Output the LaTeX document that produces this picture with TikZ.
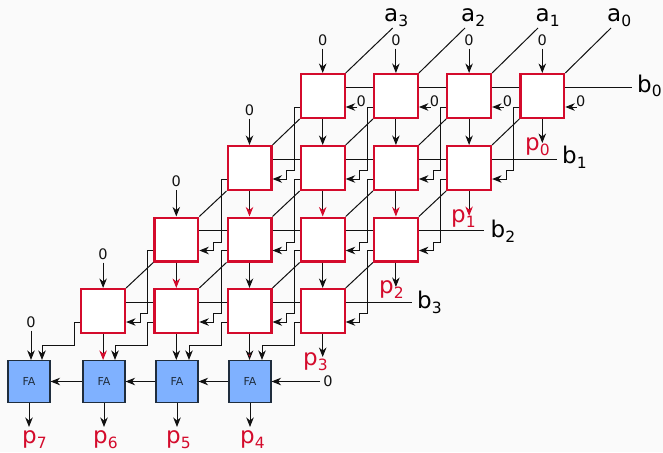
\documentclass[tikz,border=0pt]{standalone}
\usepackage{fontspec}
\setmainfont{DejaVu Sans}
\usetikzlibrary{arrows.meta,calc}
\definecolor{bgc}{HTML}{FAFAFA}
\definecolor{cellred}{HTML}{D40B2C}
\definecolor{fablue}{HTML}{7FB1FF}
\definecolor{fadark}{HTML}{1F2D3D}
\definecolor{wirec}{HTML}{111111}
\tikzset{
  cellbox/.style={draw=cellred,line width=2.2pt,fill=white,minimum size=43.8pt,inner sep=0pt},
  fabox/.style={draw=fadark,line width=1.1pt,fill=fablue,minimum size=42pt,inner sep=0pt,font=\fontsize{11}{11}\selectfont,text=fadark},
  wire/.style={draw=wirec,line width=1pt},
  arr/.style={wire,-{Stealth[length=9.5pt,width=7.5pt,inset=3pt]}},
  arrred/.style={wire,-{Stealth[length=9.5pt,width=7.5pt,inset=3pt,color=cellred]}},
  arrmix/.style={wire,-{Stealth[length=9.5pt,width=7.5pt,inset=3pt,fill=cellred]}},
  zero/.style={font=\fontsize{14.5}{15}\selectfont,text=wirec,inner sep=0pt},
  abl/.style={font=\fontsize{23}{24}\selectfont,text=black,inner sep=0pt,anchor=base west},
  pbl/.style={font=\fontsize{23}{24}\selectfont,text=cellred,inner sep=0pt,anchor=base west}
}
\newcommand{\sbs}[1]{\raisebox{-5pt}{\fontsize{15.5}{16}\selectfont #1}}
\begin{document}
\begin{tikzpicture}[x=1pt,y=-1pt]
\fill[bgc] (0,0) rectangle (663,452);
\useasboundingbox (0,0) rectangle (663,452);
% FA nodes
\node[fabox] (fa0) at (29,381.5) {FA};
\node[fabox] (fa1) at (104,381.5) {FA};
\node[fabox] (fa2) at (177,381.5) {FA};
\node[fabox] (fa3) at (250,381.5) {FA};
% cells: c<row><col>
\foreach \r/\yy in {0/96,1/168,2/239.5,3/311}{
  \foreach \c in {0,1,2,3}{
    \pgfmathsetmacro{\xx}{322.7+73.2*\c-73.2*\r}
    \node[cellbox] (c\r\c) at (\xx,\yy) {};
  }
}
% outside ends
\coordinate (ea3) at (392.7,28);
\coordinate (ea2) at (465,28);
\coordinate (ea1) at (538,28);
\coordinate (ea0) at (611,28);
\coordinate (eb0) at (632,87);
\coordinate (eb1) at (557,159);
\coordinate (eb2) at (484,230.5);
\coordinate (eb3) at (412,302);
% zero inputs
\foreach \c in {0,1,2,3}{
  \node[zero] (zt\c) at ($(c0\c.north)+(0,-33)$) {0};
  \draw[arr] ([yshift=-3pt]zt\c.south) -- (c0\c.north);
  \node[zero] (zr\c) at ($(c0\c.east)+(15.5,5.5)$) {0};
  \draw[arr] ([xshift=1pt,yshift=-5.5pt]zr\c.west) -- ([yshift=-11pt]c0\c.east);
}
\node[zero] (zl1) at ($(c10.north)+(0,-35)$) {0};
\draw[arr] ([yshift=-3pt]zl1.south) -- (c10.north);
\node[zero] (zl2) at ($(c20.north)+(0,-35)$) {0};
\draw[arr] ([yshift=-3pt]zl2.south) -- (c20.north);
\node[zero] (zl3) at ($(c30.north)+(0,-34)$) {0};
\draw[arr] ([yshift=-3pt]zl3.south) -- (c30.north);
\node[zero] (zf) at (31,322) {0};
\draw[arr] ([yshift=-3pt]zf.south) -- (zf.south|-fa0.north);
\node[zero] (zf3) at ($(fa3.center)+(78,0)$) {0};
\draw[arr] ([xshift=-3pt]zf3.west) -- (fa3.east);
% FA chain and outputs
\draw[arr] (fa3.west) -- (fa2.east);
\draw[arr] (fa2.west) -- (fa1.east);
\draw[arr] (fa1.west) -- (fa0.east);
\node[pbl] (p7) at (22,443) {p\sbs{7}};
\node[pbl] (p6) at (93,443) {p\sbs{6}};
\node[pbl] (p5) at (166,443) {p\sbs{5}};
\node[pbl] (p4) at (240,443) {p\sbs{4}};
\coordinate (o0) at (29,427);
\coordinate (o1) at (104,427);
\coordinate (o2) at (177,427);
\coordinate (o3) at (250,427);
\foreach \i in {0,1,2,3}{\draw[arr] (fa\i.south) -- (o\i);}
% a inputs
\draw[wire] (c00.north east) -- (ea3);
\draw[wire] (c01.north east) -- (ea2);
\draw[wire] (c02.north east) -- (ea1);
\draw[wire] (c03.north east) -- (ea0);
% diagonals between rows
\foreach \r/\n in {0/1,1/2,2/3}{
  \foreach \c in {0,1,2,3}{
    \draw[wire] (c\r\c.south west) -- (c\n\c.north east);
  }
}
% b lines
\foreach \r in {0,1,2,3}{
  \foreach \a/\b in {0/1,1/2,2/3}{
    \draw[wire] ([yshift=9pt]c\r\a.east) -- ([yshift=9pt]c\r\b.west);
  }
  \draw[wire] ([yshift=9pt]c\r3.east) -- (eb\r);
}
% carries between rows
\foreach \r/\n in {0/1,1/2,2/3}{
  \foreach \c in {0,1,2,3}{
    \draw[arr] ([yshift=-11pt]c\r\c.west) -- ++(-5.5,0) -- ++(0,63) -- ++(-7.5,0) |- ([yshift=-11pt]c\n\c.east);
  }
}
% carries to FA
\draw[arr] ([yshift=-11pt]c30.west) -- ++(-5.5,0) -- ++(0,23) -| ([xshift=13pt]fa0.north);
\draw[arr] ([yshift=-11pt]c31.west) -- ++(-5.5,0) -- ++(0,23) -| ([xshift=11pt]fa1.north);
\draw[arr] ([yshift=-11pt]c32.west) -- ++(-5.5,0) -- ++(0,23) -| ([xshift=12pt]fa2.north);
\draw[arr] ([yshift=-11pt]c33.west) -- ++(-5.5,0) -- ++(0,23) -| ([xshift=12pt]fa3.north);
% sums between rows
\foreach \c/\d in {0/1,1/2,2/3}{
  \draw[arr] (c0\c.south) -- (c1\d.north);
  \draw[arrred] (c1\c.south) -- (c2\d.north);
}
\draw[arrred] (c20.south) -- (c31.north);
\draw[arr] (c21.south) -- (c32.north);
\draw[arr] (c22.south) -- (c33.north);
% sums to p labels
\coordinate (ep0) at (542,143);
\coordinate (ep1) at (469,216);
\coordinate (ep2) at (396,287);
\coordinate (ep3) at (323,357);
\draw[arr] (c03.south) -- (c03.south|-ep0);
\draw[arrred] (c13.south) -- (c13.south|-ep1);
\draw[arr] (c23.south) -- (c23.south|-ep2);
\draw[arr] (c33.south) -- (c33.south|-ep3);
% bottom row to FA
\draw[arrred] (c30.south) -- (c30.south|-fa1.north);
\draw[arr] (c31.south) -- (c31.south|-fa2.north);
\draw[arrmix] (c32.south) -- (c32.south|-fa3.north);
% labels
\node[abl] (a3) at (384,22) {a\sbs{3}};
\node[abl] (a2) at (461,22) {a\sbs{2}};
\node[abl] (a1) at (535.5,22) {a\sbs{1}};
\node[abl] (a0) at (607,22) {a\sbs{0}};
\node[abl] (b0) at (637,92) {b\sbs{0}};
\node[abl] (b1) at (562,163) {b\sbs{1}};
\node[abl] (b2) at (490.5,237) {b\sbs{2}};
\node[abl] (b3) at (417,308) {b\sbs{3}};
\node[pbl] (p0) at (525,150) {p\sbs{0}};
\node[pbl] (p1) at (451,222) {p\sbs{1}};
\node[pbl] (p2) at (379,293) {p\sbs{2}};
\node[pbl] (p3) at (303,365) {p\sbs{3}};
\end{tikzpicture}
\end{document}
